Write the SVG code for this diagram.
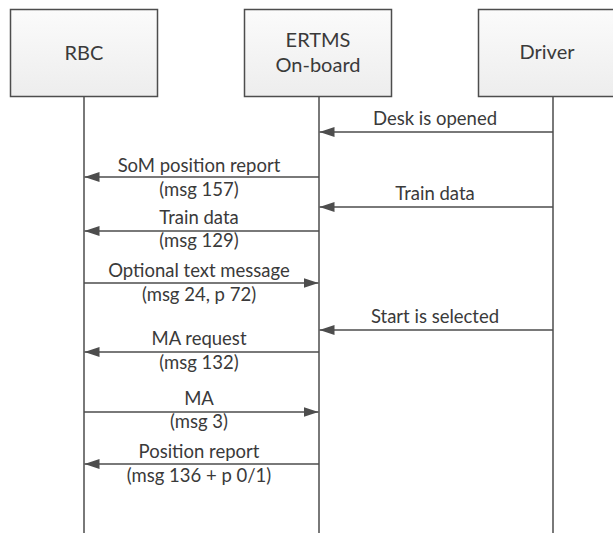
<svg xmlns="http://www.w3.org/2000/svg" width="613" height="533" viewBox="0 0 613 533">
<style>
.box{fill:url(#g);stroke:#4d4d4d;stroke-width:1.5}
.life{stroke:#4d4d4d;stroke-width:1.5;fill:none}
.msg{stroke:#4d4d4d;stroke-width:1.5;fill:none;marker-end:url(#ah)}
.t{font-family:Lato,"Open Sans",sans-serif;fill:#3a3a3a;text-anchor:middle}
.title{font-size:20px}
.lbl{font-size:18.5px}
</style>
<defs>
<linearGradient id="g" x1="0" y1="0" x2="0" y2="1">
<stop offset="0" stop-color="#fbfbfb"/>
<stop offset="1" stop-color="#ededed"/>
</linearGradient>
<marker id="ah" markerUnits="userSpaceOnUse" markerWidth="16" markerHeight="10" refX="15" refY="5" orient="auto">
<path d="M0,0 L15,5 L0,10 Z" fill="#4d4d4d"/>
</marker>
</defs>
<rect width="613" height="533" fill="#ffffff"/>
<g id="rbc">
<rect class="box" x="10.5" y="9.5" width="147" height="87"/>
<text class="t title" x="84" y="60">RBC</text>
</g>
<g id="ertms">
<rect class="box" x="244.5" y="9.5" width="147" height="87"/>
<text class="t title" x="318" y="47">ERTMS</text>
<text class="t title" x="318" y="72">On-board</text>
</g>
<g id="driver">
<rect class="box" x="478.5" y="9.5" width="150" height="87"/>
<text class="t title" x="547" y="59">Driver</text>
</g>
<g id="connectors">
<line class="life" x1="84" y1="97" x2="84" y2="533"/>
<line class="life" x1="319" y1="97" x2="319" y2="533"/>
<line class="life" x1="553" y1="97" x2="553" y2="533"/>
<line class="msg" x1="553" y1="132" x2="319.5" y2="132"/>
<line class="msg" x1="319" y1="177" x2="84.5" y2="177"/>
<line class="msg" x1="553" y1="207" x2="319.5" y2="207"/>
<line class="msg" x1="319" y1="231" x2="84.5" y2="231"/>
<line class="msg" x1="84" y1="283" x2="318.5" y2="283"/>
<line class="msg" x1="553" y1="330" x2="319.5" y2="330"/>
<line class="msg" x1="319" y1="352" x2="84.5" y2="352"/>
<line class="msg" x1="84" y1="412" x2="318.5" y2="412"/>
<line class="msg" x1="319" y1="464" x2="84.5" y2="464"/>
</g>
<g id="labels">
<text class="t lbl" x="435" y="125">Desk is opened</text>
<text class="t lbl" x="199" y="172">SoM position report</text>
<text class="t lbl" x="199" y="196">(msg 157)</text>
<text class="t lbl" x="435" y="200">Train data</text>
<text class="t lbl" x="199" y="224">Train data</text>
<text class="t lbl" x="199" y="247">(msg 129)</text>
<text class="t lbl" x="199" y="277">Optional text message</text>
<text class="t lbl" x="199" y="301">(msg 24, p 72)</text>
<text class="t lbl" x="435" y="323">Start is selected</text>
<text class="t lbl" x="199" y="345">MA request</text>
<text class="t lbl" x="199" y="369">(msg 132)</text>
<text class="t lbl" x="199" y="405">MA</text>
<text class="t lbl" x="199" y="428">(msg 3)</text>
<text class="t lbl" x="199" y="458">Position report</text>
<text class="t lbl" x="199" y="482">(msg 136 + p 0/1)</text>
</g>
</svg>
